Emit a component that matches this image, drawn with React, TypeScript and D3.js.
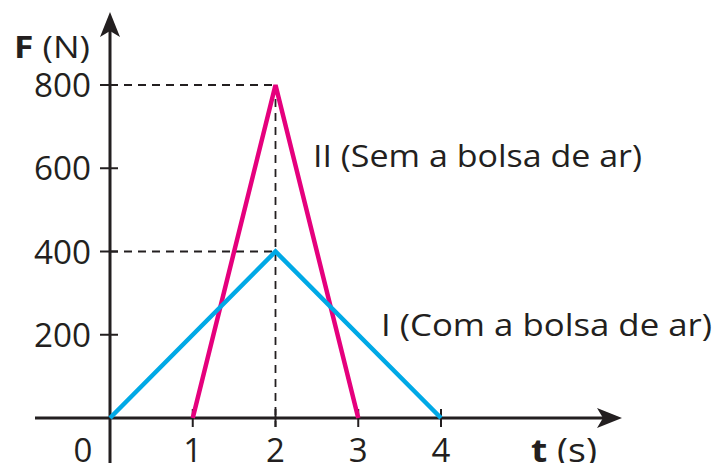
import React from "react";
import * as d3 from "d3";

// values
const timeTicks = [0, 1, 2, 3, 4];
const forceTicks = [200, 400, 600, 800];
const seriesI = [
  { t: 0, f: 0 },
  { t: 2, f: 400 },
  { t: 4, f: 0 },
];
const seriesII = [
  { t: 1, f: 0 },
  { t: 2, f: 800 },
  { t: 3, f: 0 },
];
const peakGuides = [800, 400];

const W = 717,
  H = 463;
const ink = "#231f20";
const font = "'Open Sans', sans-serif";

export default function App() {
  const x = d3.scaleLinear().domain([0, 4]).range([110, 441]);
  const y = d3.scaleLinear().domain([0, 800]).range([418, 85]);

  const line = d3
    .line<{ t: number; f: number }>()
    .x((d) => x(d.t))
    .y((d) => y(d.f));

  const x0 = x(0),
    y0 = y(0);

  return (
    <svg
      width={W}
      height={H}
      style={{ position: "absolute", left: 0, top: 0, background: "#fff" }}
      fontFamily={font}
    >
      {/* guide lines */}
      {peakGuides.map((v) => (
        <line
          key={"h" + v}
          x1={x0}
          x2={x(2)}
          y1={y(v)}
          y2={y(v)}
          stroke={ink}
          strokeWidth={1.8}
          strokeDasharray="8 6"
        />
      ))}
      <line
        x1={x(2)}
        x2={x(2)}
        y1={y(800)}
        y2={y0 + 9}
        stroke={ink}
        strokeWidth={1.8}
        strokeDasharray="8 6"
      />

      {/* axes */}
      <line x1={35} x2={606} y1={y0} y2={y0} stroke={ink} strokeWidth={3} />
      <line x1={x0} x2={x0} y1={30} y2={H} stroke={ink} strokeWidth={3} />
      <path
        d={`M${x0},12 L${x0 + 10},37 L${x0},31 L${x0 - 10},37 Z`}
        fill={ink}
      />
      <path
        d={`M622,${y0} L597,${y0 - 10} L603,${y0} L597,${y0 + 10} Z`}
        fill={ink}
      />

      {/* y ticks */}
      {forceTicks.map((v) => (
        <g key={v}>
          <line
            x1={x0 - 10}
            x2={x0 + 8}
            y1={y(v)}
            y2={y(v)}
            stroke={ink}
            strokeWidth={2}
          />
          <text
            x={91}
            y={y(v) + 12}
            textAnchor="end"
            fontSize={33}
            fill={ink}
            textLength={57}
            lengthAdjust="spacingAndGlyphs"
          >
            {v}
          </text>
        </g>
      ))}

      {/* x ticks */}
      {timeTicks.map((v) => (
        <g key={v}>
          {v > 0 && (
            <line
              x1={x(v)}
              x2={x(v)}
              y1={y0 - 9}
              y2={y0 + 9}
              stroke={ink}
              strokeWidth={2}
            />
          )}
          <text
            x={v === 0 ? 83 : x(v)}
            y={462}
            textAnchor="middle"
            fontSize={33}
            fill={ink}
          >
            {v}
          </text>
        </g>
      ))}

      {/* series */}
      <path
        d={line(seriesII) || ""}
        fill="none"
        stroke="#e5007d"
        strokeWidth={4.5}
      />
      <path
        d={line(seriesI) || ""}
        fill="none"
        stroke="#00a9e6"
        strokeWidth={4.5}
      />

      {/* axis titles */}
      <text
        x={14}
        y={58}
        fontSize={31}
        fill={ink}
        textLength={76}
        lengthAdjust="spacingAndGlyphs"
      >
        <tspan fontWeight="bold">F</tspan>
        <tspan> (N)</tspan>
      </text>
      <text
        x={531}
        y={462}
        fontSize={32}
        fill={ink}
        textLength={66}
        lengthAdjust="spacingAndGlyphs"
      >
        <tspan fontWeight="bold">t</tspan>
        <tspan> (s)</tspan>
      </text>

      {/* series labels */}
      <text
        x={313}
        y={167}
        fontSize={31}
        fill={ink}
        textLength={329}
        lengthAdjust="spacingAndGlyphs"
      >
        II (Sem a bolsa de ar)
      </text>
      <text
        x={381}
        y={336}
        fontSize={31}
        fill={ink}
        textLength={331}
        lengthAdjust="spacingAndGlyphs"
      >
        I (Com a bolsa de ar)
      </text>
    </svg>
  );
}
